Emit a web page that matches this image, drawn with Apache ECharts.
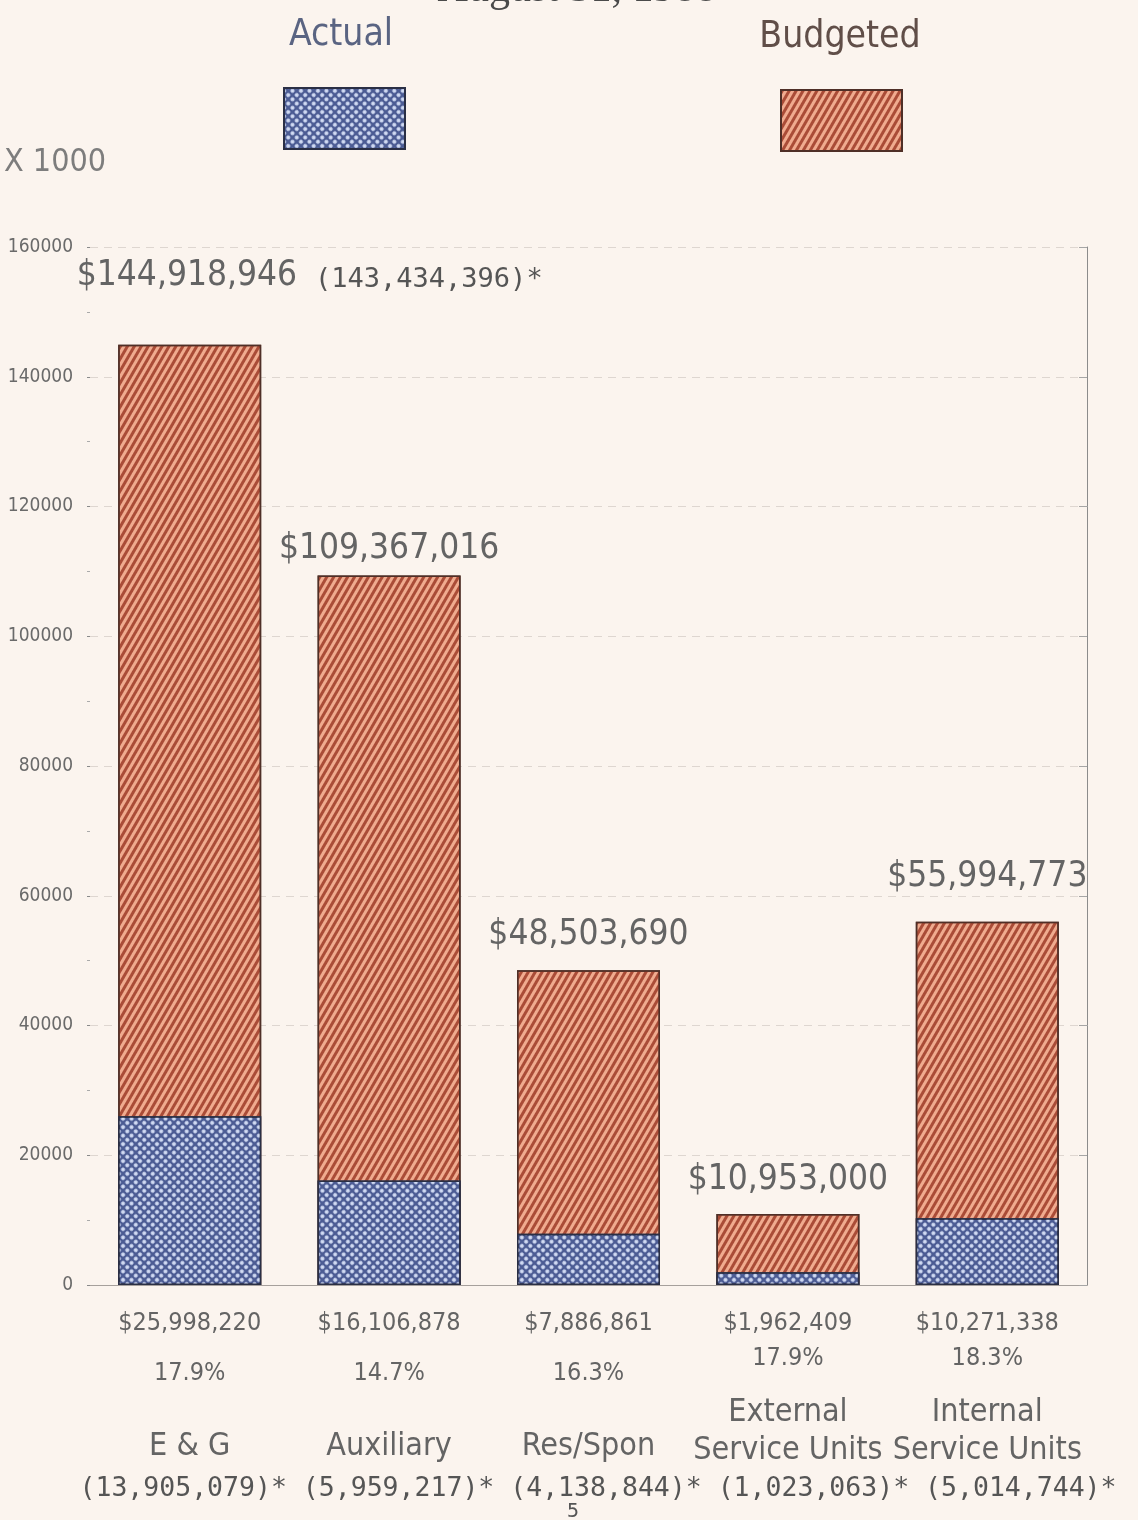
<!DOCTYPE html>
<html>
<head>
<meta charset="utf-8">
<title>Actual vs Budgeted</title>
<script src="https://cdn.jsdelivr.net/npm/echarts@6/dist/echarts.min.js"></script>
<style>
  html, body { margin: 0; padding: 0; background: #fbf4ee; }
  #chart { width: 1138px; height: 1520px; }
</style>
</head>
<body>
<div id="chart"></div>
<script>
// Fund categories and dollar amounts
const categories = ['E & G', 'Auxiliary', 'Res/Spon', 'External\nService Units', 'Internal\nService Units'];
const budgeted = [144918946, 109367016, 48503690, 10953000, 55994773];
const actual = [25998220, 16106878, 7886861, 1962409, 10271338];
const priorActual = [13905079, 5959217, 4138844, 1023063, 5014744];
const priorBudgetEG = 143434396;

// Axis is in thousands of dollars
const yMin = 0, yMax = 160000, yStep = 20000;

// Label lift above each budget bar (px)
const topLabelLift = [51, 9, 18, 17, 27];

const NARROW = "'Liberation Sans Narrow','DejaVu Sans Condensed','Arial Narrow',sans-serif";
const MONO = "'DejaVu Sans Mono','Liberation Mono',monospace";
const SERIF = "'Liberation Serif','DejaVu Serif',serif";
const TEXT = '#646464';

const money = v => '$' + v.toLocaleString('en-US');
const paren = v => '(' + v.toLocaleString('en-US') + ')*';

const chart = echarts.init(document.getElementById('chart'), null, { renderer: 'canvas' });

const option = {
  backgroundColor: '#fbf4ee',
  animation: false,
  title: [
    { text: 'August 31, 1988', left: 577, textAlign: 'center', top: -31, padding: 0,
      textStyle: { fontFamily: SERIF, fontSize: 42, fontWeight: 'normal', color: '#4a4a4a' } },
    { text: 'Actual', left: 341, textAlign: 'center', top: 17, padding: 0,
      textStyle: { fontFamily: NARROW, fontSize: 37, fontWeight: 'normal', color: '#5a6482' } },
    { text: 'Budgeted', left: 840, textAlign: 'center', top: 19, padding: 0,
      textStyle: { fontFamily: NARROW, fontSize: 37, fontWeight: 'normal', color: '#604e48' } },
    { text: 'X 1000', left: 4, top: 147, padding: 0,
      textStyle: { fontFamily: NARROW, fontSize: 32, fontWeight: 'normal', color: '#7d7d7d' } },
    { text: priorActual.map(paren).join(' '), left: 598, textAlign: 'center', top: 1476, padding: 0,
      textStyle: { fontFamily: MONO, fontSize: 26.5, fontWeight: 'normal', color: '#555' } },
    { text: '5', left: 573, textAlign: 'center', top: 1502, padding: 0,
      textStyle: { fontFamily: MONO, fontSize: 20, fontWeight: 'normal', color: '#555' } }
  ],
  legend: [
    { data: ['Actual'], left: 283, top: 87, padding: 0, itemWidth: 121, itemHeight: 61,
      icon: 'rect', selectedMode: false, formatter: () => '' },
    { data: ['Budgeted'], left: 780, top: 89, padding: 0, itemWidth: 121, itemHeight: 61,
      icon: 'rect', selectedMode: false, formatter: () => '' }
  ],
  grid: { left: 90, right: 51, top: 247, bottom: 235, outerBoundsMode: 'none', containLabel: false },
  xAxis: [
    {
      type: 'category', data: categories, position: 'bottom',
      axisLine: { show: true, lineStyle: { color: '#b5aca6' } },
      axisTick: { show: false },
      axisLabel: {
        interval: 0, margin: 20, color: TEXT, hideOverlap: false,
        formatter: (val, i) => {
          const pct = (actual[i] / budgeted[i] * 100).toFixed(1) + '%';
          const lines = categories[i].split('\n');
          if (lines.length === 1) {
            return `{v|${money(actual[i])}}\n{s15| }\n{p|${pct}}\n{s35| }\n{n|${lines[0]}}`;
          }
          return `{v|${money(actual[i])}}\n{p|${pct}}\n{s19| }\n{n2|${lines[0]}}\n{n2|${lines[1]}}`;
        },
        rich: {
          v: { fontFamily: NARROW, fontSize: 25, lineHeight: 36, color: TEXT },
          p: { fontFamily: NARROW, fontSize: 25, lineHeight: 34, color: TEXT },
          n: { fontFamily: NARROW, fontSize: 32, lineHeight: 44, color: TEXT },
          n2: { fontFamily: NARROW, fontSize: 32, lineHeight: 38, color: TEXT },
          s15: { fontSize: 8, lineHeight: 15 },
          s19: { fontSize: 8, lineHeight: 19 },
          s35: { fontSize: 8, lineHeight: 35 }
        }
      }
    },
    {
      type: 'category', data: categories, position: 'top',
      axisLine: { show: true, lineStyle: { color: '#a6a09c' } },
      axisTick: { show: false }, axisLabel: { show: false }
    }
  ],
  yAxis: [
    {
      type: 'value', min: yMin, max: yMax, interval: yStep, position: 'left',
      axisLine: { show: false },
      axisTick: { show: true, length: 3, lineStyle: { color: '#8a8a8a' } },
      minorTick: { show: true, splitNumber: 2, length: 3, lineStyle: { color: '#aaa' } },
      axisLabel: { margin: 17, fontFamily: NARROW, fontSize: 19, color: '#6a6a6a',
                   formatter: v => String(v) },
      splitLine: { show: true, lineStyle: { color: 'rgba(120,110,105,0.22)', type: [8, 6] } }
    },
    {
      type: 'value', min: yMin, max: yMax, interval: yStep, position: 'right',
      axisLine: { show: true, lineStyle: { color: '#8c8c8c' } },
      axisTick: { show: true, inside: true, length: 8, lineStyle: { color: '#a5a5a5' } },
      axisLabel: { show: false }, splitLine: { show: false }
    }
  ],
  series: [
    {
      name: 'Budgeted', type: 'bar', barWidth: 143, barGap: '-100%',
      data: budgeted.map((v, i) => ({
        value: v / 1000,
        label: i === 0 ? { distance: topLabelLift[i], offset: [120, 0] } : { distance: topLabelLift[i] }
      })),
      itemStyle: {
        color: '#f0ab8f', borderColor: '#4f2f27', borderWidth: 1.5,
        decal: { symbol: 'rect', symbolSize: 1, dashArrayX: [1, 0], dashArrayY: [2.1, 3],
                 rotation: -Math.PI / 3, color: 'rgba(158,60,40,0.85)' }
      },
      label: {
        show: true, position: 'top',
        formatter: p => p.dataIndex === 0
          ? `{v|${money(budgeted[0])}}{g| }{m|${paren(priorBudgetEG)}}`
          : `{v|${money(budgeted[p.dataIndex])}}`,
        rich: {
          v: { fontFamily: NARROW, fontSize: 35, color: TEXT, verticalAlign: 'bottom' },
          g: { width: 18 },
          m: { fontFamily: MONO, fontSize: 27, color: '#555', verticalAlign: 'bottom' }
        }
      }
    },
    {
      name: 'Actual', type: 'bar', barWidth: 143, barGap: '-100%',
      data: actual.map(v => v / 1000),
      itemStyle: {
        color: '#4c5c94', borderColor: '#2a2f45', borderWidth: 1.5,
        decal: { symbol: 'circle', symbolSize: 1, dashArrayX: [3.2, 1.1], dashArrayY: [3.2, 1.1],
                 rotation: Math.PI / 4, color: '#d2dcf4' }
      }
    }
  ]
};

chart.setOption(option);
</script>
</body>
</html>
